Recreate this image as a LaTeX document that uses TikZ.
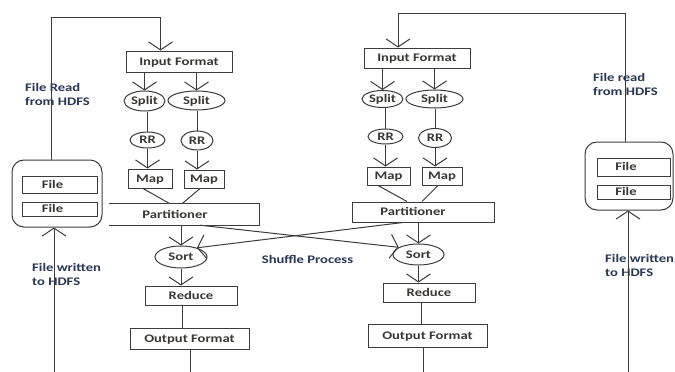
\documentclass[tikz,border=0pt]{standalone}
\usepackage{fontspec}
\setmainfont{Carlito}[FakeStretch=1.26]
\usetikzlibrary{shapes.geometric,arrows.meta}
\definecolor{linec}{RGB}{60,60,60}
\definecolor{boxtxt}{RGB}{58,55,52}
\definecolor{lblc}{RGB}{40,55,85}
\newcommand{\dfont}{\bfseries\fontsize{11.6}{14}\selectfont}
\tikzset{
  ln/.style={draw=linec, line width=1pt},
  arr/.style={ln, -{Straight Barb[length=8pt,width=24pt]}},
  bx/.style={draw=linec, line width=1pt, rectangle, inner sep=0pt, text=boxtxt, font=\dfont, text height=7.5pt, text depth=0pt},
  el/.style={bx, ellipse},
  txt/.style={inner sep=0pt, text=boxtxt, font=\dfont, text height=7.5pt, text depth=0pt},
  lbl/.style={inner sep=0pt, text=lblc, font=\dfont, align=left, anchor=base west}
}
\begin{document}
\begin{tikzpicture}[x=1pt,y=-1pt]
\fill[white] (0,0) rectangle (675,372);
\useasboundingbox (0,0) rectangle (675,372);

% ---------- left job ----------
\node[bx, minimum width=106, minimum height=21] (IF1) at (179,61.5) {Input Format};
\node[el, minimum width=41, minimum height=20] (S1) at (144.5,101) {Split};
\node[el, minimum width=57, minimum height=19] (S2) at (196.5,100.5) {Split};
\node[el, minimum width=35, minimum height=16] (RR1) at (147.5,140) {RR};
\node[el, minimum width=32, minimum height=19] (RR2) at (197,140.5) {RR};
\node[bx, minimum width=44, minimum height=19] (M1) at (150,178.5) {Map};
\node[bx, minimum width=40, minimum height=18] (M2) at (204,179) {Map};
\node[inner sep=0pt, minimum width=150, minimum height=21] (P1) at (184,214.5) {};
\draw[ln] (P1.north west) -- (P1.north east) -- (P1.south east) -- (P1.south west);
\node[txt] (P1t) at (175,214.5) {Partitioner};
\node[el, minimum width=52, minimum height=22] (SO1) at (181,257) {Sort};
\node[bx, minimum width=92, minimum height=19] (R1) at (191,295.5) {Reduce};
\node[bx, minimum width=119, minimum height=21] (O1) at (189.5,338.5) {Output Format};

% ---------- right job ----------
\node[bx, minimum width=106, minimum height=20] (IF2) at (417,58) {Input Format};
\node[el, minimum width=41, minimum height=17] (S3) at (382.5,99) {Split};
\node[el, minimum width=57, minimum height=18] (S4) at (434.5,99) {Split};
\node[el, minimum width=35, minimum height=15] (RR3) at (385.5,136.5) {RR};
\node[el, minimum width=33, minimum height=19] (RR4) at (435,138) {RR};
\node[bx, minimum width=43, minimum height=18] (M3) at (388.5,176) {Map};
\node[bx, minimum width=40, minimum height=18] (M4) at (442,176) {Map};
\node[bx, minimum width=142, minimum height=20] (P2) at (423,212) {};
\node[txt] (P2t) at (413,212) {Partitioner};
\node[el, minimum width=51, minimum height=21] (SO2) at (418.5,254.5) {Sort};
\node[bx, minimum width=92, minimum height=19] (R2) at (429,292.5) {Reduce};
\node[bx, minimum width=119, minimum height=23] (O2) at (427.5,335.5) {Output Format};

% ---------- file stores ----------
\node[draw=linec, line width=1pt, rounded corners=12pt, minimum width=90, minimum height=67, inner sep=0pt] (FBL) at (57,193.5) {};
\node[bx, minimum width=75, minimum height=17] (F1) at (59.5,184.5) {};
\node[txt] (F1t) at (52.5,184.5) {File};
\node[bx, minimum width=75, minimum height=14] (F2) at (59.5,209) {};
\node[txt] (F2t) at (52.5,208.5) {File};
\node[draw=linec, line width=1pt, rounded corners=12pt, minimum width=88, minimum height=68, inner sep=0pt] (FBR) at (629,176) {};
\node[bx, minimum width=73, minimum height=18] (F3) at (633.5,167) {};
\node[txt] (F3t) at (626,167) {File};
\node[bx, minimum width=73, minimum height=14] (F4) at (633.5,192) {};
\node[txt] (F4t) at (626,191.5) {File};

% ---------- labels (anchor = baseline of last line) ----------
\node[lbl] (L1) at (25,105.75) {File Read\\from HDFS};
\node[lbl] (L2) at (32,285.75) {File written\\to HDFS};
\node[lbl] (L3) at (593,95.25) {File read\\from HDFS};
\node[lbl] (L4) at (605,276.75) {File written\\to HDFS};
\node[txt, text=lblc] (SH) at (307.5,260) {Shuffle Process};

% ---------- coordinates ----------
\coordinate (tl) at (51.5,17);
\coordinate (tl2) at (160.5,17);
\coordinate (tr) at (625,13);
\coordinate (tr2) at (398,13);
\coordinate (bl) at (54,372);
\coordinate (br) at (628,372);
\coordinate (ob1) at (190,372);
\coordinate (ob2) at (423,372);

% ---------- left connectors ----------
\draw[arr] (S1 |- IF1.south) -- (S1.north);
\draw[arr] (S2 |- IF1.south) -- (S2.north);
\draw[ln] (RR1 |- S1.south) -- (RR1.north);
\draw[ln] (RR2 |- S2.south) -- (RR2.north);
\draw[arr] (RR1.south) -- (RR1.south |- M1.north);
\draw[arr] (RR2.south) -- (RR2.south |- M2.north);
\draw[ln] ([xshift=-7pt]M1.south) -- ([xshift=-14pt]P1.north);
\draw[ln] ([xshift=-4pt]M2.south) -- ([xshift=-2pt]P1.north);
\draw[arr] (SO1 |- P1.south) -- (SO1.north);
\draw[arr] (SO1.south) -- (SO1.south |- R1.north);
\draw[ln] ([xshift=-9pt]R1.south) -- ([xshift=-7.5pt]O1.north);
\draw[ln] (ob1 |- O1.south) -- (ob1);

% ---------- right connectors ----------
\draw[arr] (S3 |- IF2.south) -- (S3.north);
\draw[arr] (S4 |- IF2.south) -- (S4.north);
\draw[ln] (RR3 |- S3.south) -- (RR3.north);
\draw[ln] (RR4 |- S4.south) -- (RR4.north);
\draw[arr] (RR3.south) -- (RR3.south |- M3.north);
\draw[arr] (RR4.south) -- (RR4.south |- M4.north);
\draw[ln] ([xshift=-10.5pt]M3.south) -- ([xshift=-16pt]P2.north);
\draw[ln] ([xshift=-4pt]M4.south) -- ([xshift=-1pt]P2.north);
\draw[arr] (SO2 |- P2.south) -- (SO2.north);
\draw[arr] (SO2.south) -- (SO2.south |- R2.north);
\draw[ln] ([xshift=-8pt]R2.south) -- ([xshift=-6.5pt]O2.north);
\draw[ln] (ob2 |- O2.south) -- (ob2);

% ---------- shuffle ----------
\draw[arr] ([xshift=16pt]P1.south) -- (SO2.160);
\draw[arr] ([xshift=-20pt]P2.south) -- (SO1.30);

% ---------- HDFS ----------
\draw[arr] (tl |- FBL.north) -- (tl) -- (tl2) -- (tl2 |- IF1.north);
\draw[arr] (tr |- FBR.north) -- (tr) -- (tr2) -- (tr2 |- IF2.north);
\draw[arr] (bl) -- (bl |- FBL.south);
\draw[arr] (br) -- (br |- FBR.south);
\end{tikzpicture}
\end{document}
